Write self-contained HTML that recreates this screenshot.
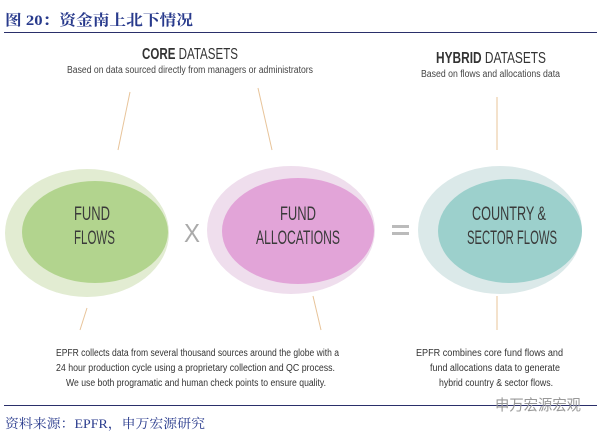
<!DOCTYPE html>
<html><head><meta charset="utf-8"><style>
html,body{margin:0;padding:0;background:#fff;}
svg{display:block;}
</style></head><body>
<svg width="600" height="437" viewBox="0 0 600 437" xmlns="http://www.w3.org/2000/svg">
<text x="5" y="25" font-family="Liberation Serif, Noto Serif CJK SC, serif" font-size="15" font-weight="bold" fill="#283a8c" textLength="188" lengthAdjust="spacingAndGlyphs">图 20：资金南上北下情况</text>
<line x1="4" y1="32.5" x2="597" y2="32.5" stroke="#2a2f6a" stroke-width="1"/>
<g font-family="Liberation Sans, sans-serif" fill="#333" lengthAdjust="spacingAndGlyphs">
<text x="142" y="59" font-size="16" textLength="96" lengthAdjust="spacingAndGlyphs"><tspan font-weight="bold">CORE</tspan> DATASETS</text>
<text x="67" y="73" font-size="10" fill="#444" textLength="246" lengthAdjust="spacingAndGlyphs">Based on data sourced directly from managers or administrators</text>
<text x="436" y="63" font-size="16" textLength="110" lengthAdjust="spacingAndGlyphs"><tspan font-weight="bold">HYBRID</tspan> DATASETS</text>
<text x="421" y="77" font-size="10" fill="#444" textLength="139" lengthAdjust="spacingAndGlyphs">Based on flows and allocations data</text>
</g>
<g stroke="#e8c49a" stroke-width="1">
<line x1="130" y1="92" x2="118" y2="150"/>
<line x1="258" y1="88" x2="272" y2="150"/>
<line x1="497" y1="97" x2="497" y2="150"/>
<line x1="87" y1="308" x2="80" y2="330"/>
<line x1="313" y1="296" x2="321" y2="330"/>
<line x1="497" y1="296" x2="497" y2="330"/>
</g>
<ellipse cx="87" cy="233" rx="82" ry="64" fill="#e2ecd2"/>
<ellipse cx="95" cy="232" rx="73" ry="51" fill="#b2d48e"/>
<ellipse cx="291" cy="230" rx="84" ry="64" fill="#efdeed"/>
<ellipse cx="298" cy="231" rx="76" ry="53" fill="#e2a4d8"/>
<ellipse cx="500" cy="230" rx="82" ry="64" fill="#dbe9e9"/>
<ellipse cx="510" cy="231" rx="72" ry="52" fill="#9cd0cc"/>
<g font-family="Liberation Sans, sans-serif" font-size="19" fill="#3a3a3a">
<text x="74" y="220" textLength="36" lengthAdjust="spacingAndGlyphs">FUND</text>
<text x="74" y="244" textLength="41" lengthAdjust="spacingAndGlyphs">FLOWS</text>
<text x="280" y="220" textLength="36" lengthAdjust="spacingAndGlyphs">FUND</text>
<text x="256" y="244" textLength="84" lengthAdjust="spacingAndGlyphs">ALLOCATIONS</text>
<text x="472" y="220" textLength="74" lengthAdjust="spacingAndGlyphs">COUNTRY &amp;</text>
<text x="467" y="244" textLength="90" lengthAdjust="spacingAndGlyphs">SECTOR FLOWS</text>
</g>
<text x="192" y="242" font-family="Liberation Sans, sans-serif" font-size="26" fill="#aaa" text-anchor="middle" textLength="16" lengthAdjust="spacingAndGlyphs">X</text>
<rect x="392" y="225" width="17" height="3" fill="#bbb"/>
<rect x="392" y="232" width="17" height="3" fill="#bbb"/>
<g font-family="Liberation Sans, sans-serif" font-size="10" fill="#333">
<text x="56" y="356" textLength="283" lengthAdjust="spacingAndGlyphs">EPFR collects data from several thousand sources around the globe with a</text>
<text x="56" y="371" textLength="279" lengthAdjust="spacingAndGlyphs">24 hour production cycle using a proprietary collection and QC process.</text>
<text x="66" y="386" textLength="260" lengthAdjust="spacingAndGlyphs">We use both programatic and human check points to ensure quality.</text>
<text x="416" y="356" textLength="147" lengthAdjust="spacingAndGlyphs">EPFR combines core fund flows and</text>
<text x="430" y="371" textLength="130" lengthAdjust="spacingAndGlyphs">fund allocations data  to generate</text>
<text x="439" y="386" textLength="114" lengthAdjust="spacingAndGlyphs">hybrid country &amp; sector flows.</text>
</g>
<line x1="4" y1="405.5" x2="597" y2="405.5" stroke="#2a2f6a" stroke-width="1"/>
<text x="495" y="410" font-family="Liberation Sans, Noto Sans CJK SC, sans-serif" font-size="15" fill="#999" textLength="86" lengthAdjust="spacingAndGlyphs">申万宏源宏观</text>
<text x="5" y="428" font-family="Liberation Serif, Noto Serif CJK SC, serif" font-size="13" fill="#283a8c" textLength="200" lengthAdjust="spacingAndGlyphs">资料来源：EPFR，申万宏源研究</text>
</svg>
</body></html>
